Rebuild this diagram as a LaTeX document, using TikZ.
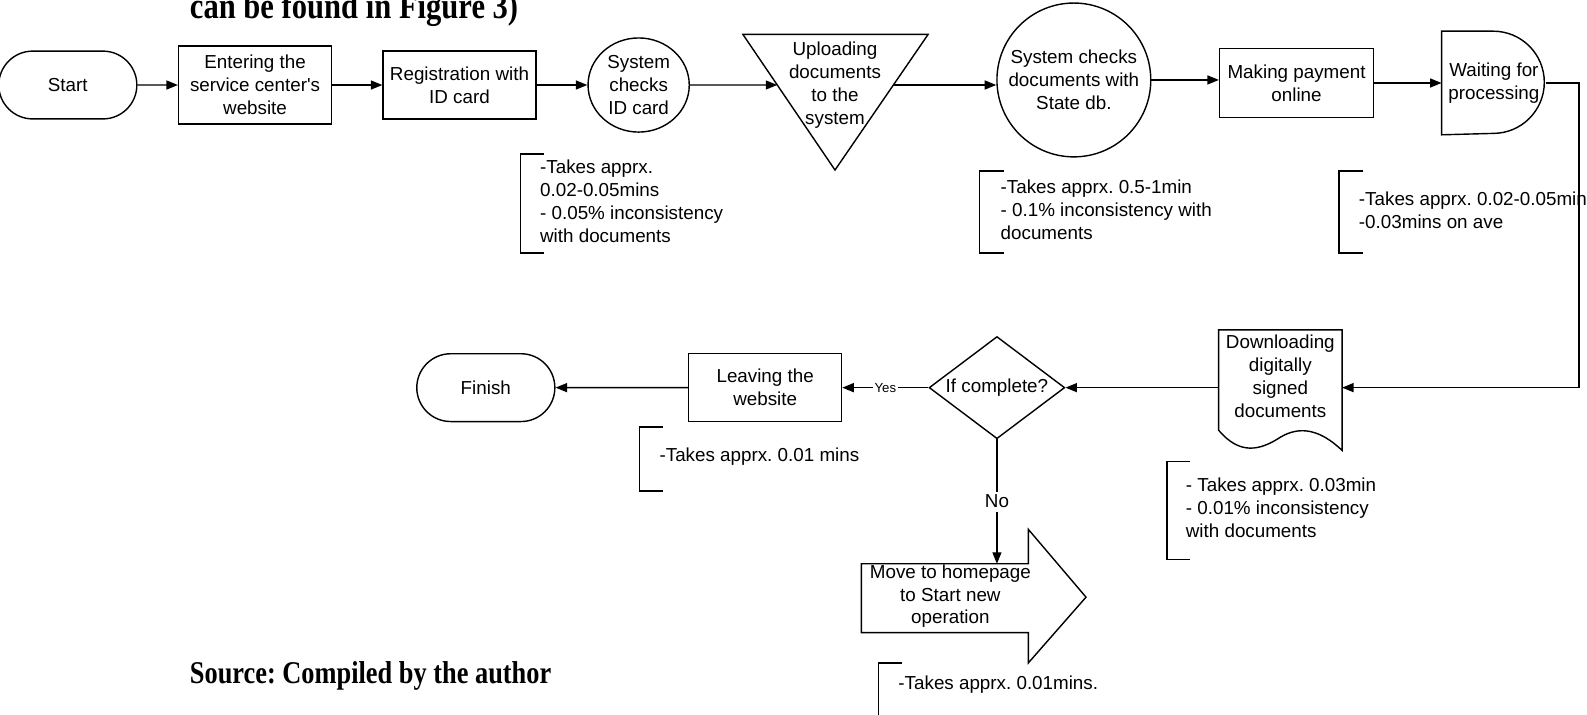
\documentclass[tikz,border=0pt]{standalone}
\usepackage{fontspec}
\setmainfont{Liberation Sans}
\newfontfamily\captionfont{Liberation Serif}
\usetikzlibrary{arrows.meta,shapes.geometric,shapes.misc,calc}
\newcommand{\upx}{0.2024mm}
\tikzset{
  arr/.style={-{Triangle[length=2.3mm,width=1.8mm]}},
  box/.style={draw, rectangle, align=center, inner sep=1pt},
  term/.style={draw, rounded rectangle, minimum width=148*\upx, minimum height=67*\upx},
  note/.style={anchor=west, align=left, inner sep=0pt},
  srcfont/.style={anchor=base west, inner sep=0pt, font=\captionfont\bfseries\fontsize{15}{18}\selectfont},
}
\begin{document}
\frenchspacing
\begin{tikzpicture}[x=\upx, y=-\upx, line width=0.8pt, font=\fontsize{10.7}{13}\selectfont]
\useasboundingbox (0,0) rectangle (1568,706);

\node[srcfont, font=\captionfont\bfseries\fontsize{17.4}{20}\selectfont] (fig) at (187,18) {\scalebox{1}[1.2]{can be found in Figure 3)}};
\node[srcfont] (src) at (187,675) {\scalebox{1}[1.2]{Source: Compiled by the author}};

\node[term] (start) at (67,84) {Start};
\node[box, minimum width=151*\upx, minimum height=77*\upx] (enter) at (252,84) {Entering the\\service center\textquotesingle s\\website};
\node[box, minimum width=151*\upx, minimum height=67*\upx] (reg) at (454,84) {Registration with\\ID card};
\node[draw, ellipse, minimum width=100*\upx, minimum height=93*\upx, inner sep=0pt, align=center] (idchk) at (631,84) {System\\checks\\ID card};
\node[align=center, inner sep=0pt] (upload) at (825,84) {Uploading\\documents\\to the\\system};
\draw (734,34) coordinate (up-a) -- (917,34) coordinate (up-b) -- (825,168) coordinate (up-c) -- cycle;
\node[draw, circle, minimum size=152*\upx, inner sep=0pt, align=center] (dbchk) at (1061,79) {System checks\\documents with\\State db.};
\node[box, minimum width=152*\upx, minimum height=68*\upx] (pay) at (1281,82) {Making payment\\online};
\node[minimum width=102*\upx, minimum height=101*\upx, align=center, inner sep=0pt] (wait) at (1476,82) {Waiting for\\processing};
\draw (wait.north west) -- ++(51,0) arc[start angle=90, end angle=-90, radius=10.22mm] -- (wait.south west) -- cycle;

\node[align=center, inner sep=0pt] (doc) at (1265,372) {Downloading\\digitally\\signed\\documents};
\draw (1204,326) -- (1326,326) -- (1326,445) .. controls (1305,425) and (1285,420) .. (1265,432) .. controls (1245,445) and (1225,450) .. (1204,425) -- cycle;
\node[draw, diamond, minimum width=134*\upx, minimum height=101*\upx, inner sep=0pt] (cond) at (985,383) {\makebox[0pt]{If complete?}};
\node[box, minimum width=151*\upx, minimum height=67*\upx] (leave) at (756,383) {Leaving the\\website};
\node[term] (finish) at (480,383) {Finish};
\node[align=center, inner sep=0pt] (move) at (939,589) {Move to homepage\\to Start new\\operation};
\draw (851,557) -- (1016,557) -- (1016,523) -- (1073,590) -- (1016,655) -- (1016,625) -- (851,625) -- cycle;

\coordinate (up-in) at ($(up-a)!0.373!(up-c)$);
\coordinate (up-out) at ($(up-b)!0.373!(up-c)$);
\coordinate (turn) at (1560,82);
\coordinate (doc-in) at (1326,383);
\coordinate (doc-out) at (1204,383);
\coordinate (mv-top) at (985,557);

\draw[arr] (start) -- (enter);
\draw[arr] (enter) -- (reg);
\draw[arr] (reg) -- (idchk);
\draw[arr] (idchk) -- (up-in);
\draw[arr] (up-out) -- (dbchk.west |- up-out);
\draw[arr] (dbchk.east) -- (pay.west |- dbchk.east);
\draw[arr] (pay) -- (wait);
\draw[arr] (wait.east) -- (turn) |- (doc-in);
\draw[arr] (doc-out) -- (cond);
\draw[arr] (cond) -- node[fill=white, inner sep=1pt, font=\fontsize{7.5}{9}\selectfont] {Yes} (leave);
\draw[arr] (leave) -- (finish);
\draw[arr] (cond) -- node[fill=white, inner sep=2pt] {No} (mv-top);

\draw (537,152) -- (514,152) -- (514,250) -- (537,250);
\node[note] (n1) at (533,199) {-Takes apprx.\\0.02-0.05mins\\- 0.05\% inconsistency\\with documents};
\draw (992,169) -- (968,169) -- (968,250) -- (992,250);
\node[note] (n2) at (988,207) {-Takes apprx. 0.5-1min\\- 0.1\% inconsistency with\\documents};
\draw (1347,169) -- (1323,169) -- (1323,250) -- (1347,250);
\node[note] (n3) at (1342,208) {-Takes apprx. 0.02-0.05min\\-0.03mins on ave};
\draw (1176,456) -- (1153,456) -- (1153,553) -- (1176,553);
\node[note] (n4) at (1171,502) {- Takes apprx. 0.03min\\- 0.01\% inconsistency\\with documents};
\draw (655,422) -- (632,422) -- (632,485) -- (655,485);
\node[note] (n5) at (651,451) {-Takes apprx. 0.01 mins};
\draw (891,655) -- (868,655) -- (868,720);
\node[note] (n6) at (887,676) {-Takes apprx. 0.01mins.};
\end{tikzpicture}
\end{document}
